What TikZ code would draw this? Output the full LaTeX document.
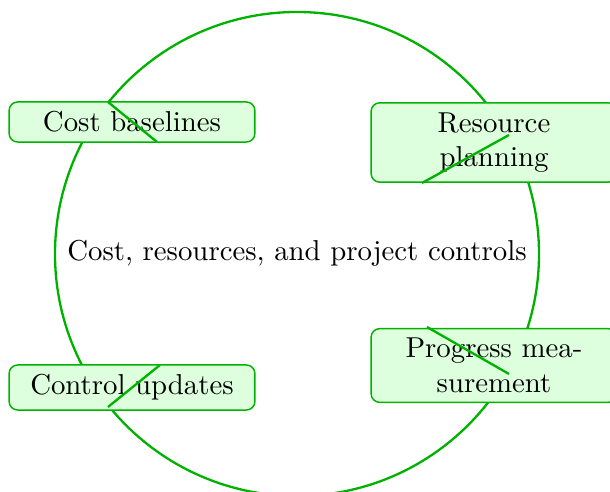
\documentclass[tikz,border=0pt]{standalone}
\begin{document}
\begin{tikzpicture}[x=0.3472pt,y=-0.3472pt,
  ring/.style={draw=green!70!black,line width=0.8pt},
  stage/.style={draw=green!70!black,fill=green!13,rounded corners=3pt,line width=0.5pt,text width=78.7pt,align=center,inner sep=3.33pt},
  tick/.style={draw=green!70!black,line width=0.8pt}]
\useasboundingbox (0,0) rectangle (610,492);
\begin{scope}
\clip (0,0) rectangle (610,492);
\draw[ring] (297,254) circle[radius=242];
\node (hub) at (297,253) {Cost, resources, and project controls};
\node[stage] (cb) at (132,122) {Cost baselines};
\node[stage] (rp) at (494,142.5) {Resource planning};
\node[stage] (cu) at (132,387.5) {Control updates};
\node[stage] (pm) at (494,365.5) {Progress measurement};
\coordinate (a1) at (108,102); \coordinate (a2) at (157,142);
\coordinate (b1) at (509,135); \coordinate (b2) at (422,183);
\coordinate (c1) at (160,365); \coordinate (c2) at (108,407);
\coordinate (d1) at (427,327); \coordinate (d2) at (509,374);
\draw[tick] (a1) -- (a2);
\draw[tick] (b1) -- (b2);
\draw[tick] (c1) -- (c2);
\draw[tick] (d1) -- (d2);
\end{scope}
\end{tikzpicture}
\end{document}
